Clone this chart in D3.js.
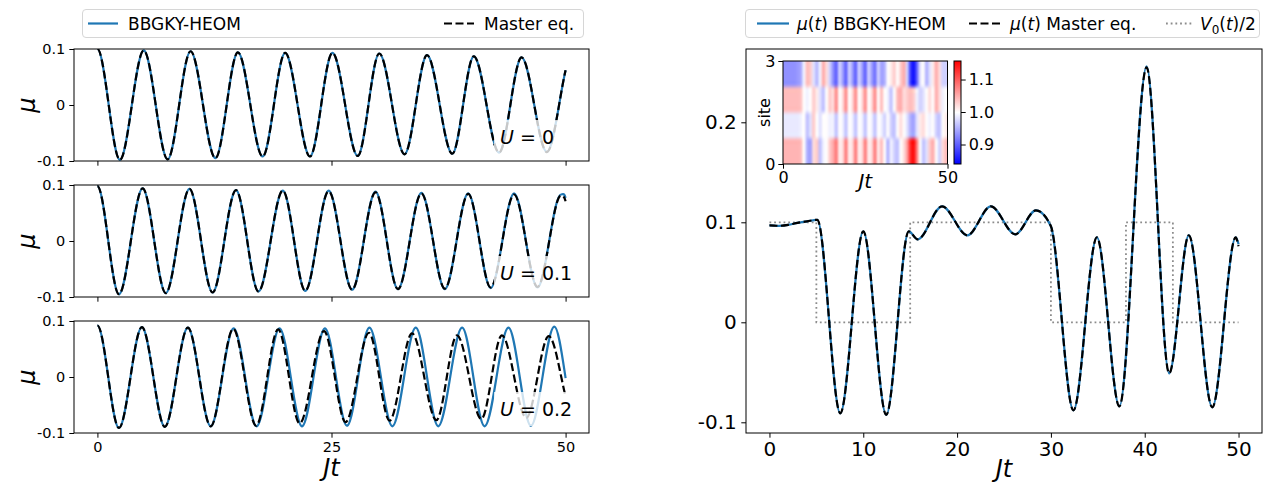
<!DOCTYPE html>
<html>
<head>
<meta charset="utf-8">
<script src="https://cdn.jsdelivr.net/npm/d3@7/dist/d3.min.js"></script>
<style>
  body { margin: 0; background: #fff; }
  svg { display: block; font-family: "DejaVu Sans", sans-serif; }
</style>
</head>
<body>
<div id="chart"></div>
<script>
/** DATA - turning points */
const leftXTicks = [0, 25, 50];
const leftYTicks = [-0.1, 0, 0.1];
const leftYLabels = ["-0.1", "0", "0.1"];
const rightXTicks = [0, 10, 20, 30, 40, 50];
const rightYTicks = [-0.1, 0, 0.1, 0.2];
const rightYLabels = ["-0.1", "0", "0.1", "0.2"];
const uValues = ["0", "0.1", "0.2"];

// U = 0
const u0Time = [0, 2.4, 4.95, 7.5, 9.95, 12.6, 15.0, 17.65, 20.05, 22.7, 25.1, 27.8, 30.1, 32.8, 35.2, 37.9, 40.2, 42.9, 45.3, 48.0, 50];
const u0Heom = [0.1, -0.098, 0.0975, -0.097, 0.096, -0.095, 0.094, -0.092, 0.093, -0.092, 0.093, -0.091, 0.092, -0.088, 0.089, -0.087, 0.087, -0.085, 0.085, -0.084, 0.062];
const u0Master = [0.1, -0.098, 0.0975, -0.097, 0.096, -0.095, 0.094, -0.092, 0.093, -0.092, 0.093, -0.091, 0.092, -0.088, 0.089, -0.087, 0.087, -0.085, 0.085, -0.084, 0.062];
// U = 0.1
const u1Time = [0, 2.3, 4.83, 7.3, 9.83, 12.3, 14.8, 17.2, 19.8, 22.2, 24.7, 27.2, 29.7, 32.1, 34.6, 37.1, 39.6, 42.0, 44.5, 47.0, 49.5, 50];
const u1Heom = [0.098, -0.095, 0.094, -0.093, 0.093, -0.092, 0.091, -0.09, 0.09, -0.089, 0.09, -0.087, 0.088, -0.086, 0.086, -0.086, 0.085, -0.084, 0.085, -0.083, 0.083, 0.077];
const u1Master = [0.098, -0.095, 0.094, -0.093, 0.093, -0.092, 0.091, -0.09, 0.09, -0.089, 0.089, -0.087, 0.087, -0.086, 0.085, -0.085, 0.084, -0.083, 0.083, -0.082, 0.081, 0.071];
// U = 0.2
const u2HeomTime = [0, 2.3, 4.75, 7.2, 9.66, 12.1, 14.55, 17.0, 19.45, 21.85, 24.3, 26.65, 29.05, 31.5, 34.0, 36.4, 38.95, 41.35, 43.9, 46.3, 48.8, 50];
const u2Heom = [0.092, -0.091, 0.089, -0.089, 0.088, -0.088, 0.087, -0.088, 0.087, -0.088, 0.087, -0.087, 0.088, -0.088, 0.088, -0.088, 0.088, -0.088, 0.088, -0.087, 0.09, -0.002];
const u2MasterTime = [0, 2.3, 4.75, 7.2, 9.66, 12.1, 14.5, 16.95, 19.3, 21.6, 24.2, 26.5, 29.0, 31.2, 33.6, 36.2, 38.4, 41.0, 43.2, 45.8, 48.2, 50];
const u2Master = [0.092, -0.091, 0.089, -0.089, 0.088, -0.088, 0.086, -0.087, 0.085, -0.083, 0.082, -0.0805, 0.079, -0.078, 0.078, -0.077, 0.0745, -0.075, 0.0745, -0.073, 0.073, -0.035];

// right panel, driven system
const rightTime = [0, 1, 2, 3, 4, 5.1, 7.55, 10.0, 12.45, 14.85, 15.8, 18.4, 21.1, 23.6, 26.2, 28.4, 30.0, 32.4, 34.9, 37.3, 40.2, 42.6, 44.7, 47.2, 49.7, 50];
const rightHeom = [0.097, 0.0965, 0.0975, 0.0995, 0.101, 0.1025, -0.091, 0.091, -0.0925, 0.091, 0.083, 0.116, 0.087, 0.116, 0.088, 0.112, 0.096, -0.088, 0.085, -0.084, 0.256, -0.051, 0.087, -0.085, 0.085, 0.078];
const rightMaster = [0.097, 0.0965, 0.0975, 0.0995, 0.101, 0.1025, -0.091, 0.091, -0.0925, 0.091, 0.083, 0.116, 0.087, 0.116, 0.088, 0.112, 0.096, -0.088, 0.085, -0.084, 0.255, -0.051, 0.087, -0.085, 0.085, 0.076];
const vTime = [0, 5, 15, 30, 38, 43, 50];
const vHalf = [0.1, 0, 0.1, 0, 0.1, 0, 0];

// inset: site densities at Jt = 0..50
const site3 = [0.93, 0.93, 0.93, 0.93, 0.935, 0.945, 0.99, 1.04, 1.03, 0.98, 0.955, 0.99, 1.05, 1.02, 0.97, 0.93, 0.9, 0.97, 0.94, 0.9, 0.97, 0.94, 0.9, 0.97, 0.94, 0.9, 0.97, 0.94, 0.91, 0.97, 0.94, 0.95, 1.0, 1.01, 1.03, 1.0, 1.03, 1.05, 0.97, 0.88, 0.85, 0.9, 0.98, 1.0, 0.95, 0.98, 1.01, 1.05, 1.02, 0.97, 0.97];
const site2 = [1.04, 1.04, 1.04, 1.04, 1.04, 1.035, 1.0, 0.99, 1.0, 1.03, 1.01, 0.98, 0.96, 1.0, 1.03, 1.02, 1.07, 1.0, 1.02, 1.07, 1.0, 1.02, 1.07, 1.0, 1.02, 1.07, 1.0, 1.02, 1.07, 1.0, 1.04, 1.0, 0.99, 0.96, 1.0, 1.04, 1.05, 1.02, 1.03, 1.04, 1.03, 0.99, 0.97, 0.98, 1.0, 1.02, 1.0, 1.05, 1.02, 0.99, 1.0];
const site1 = [0.985, 0.985, 0.985, 0.985, 0.985, 0.99, 1.0, 0.96, 0.98, 1.03, 1.0, 0.98, 1.0, 1.0, 0.99, 0.99, 0.96, 1.0, 0.99, 0.96, 1.0, 0.99, 0.96, 1.0, 0.99, 0.96, 1.0, 0.99, 0.96, 1.0, 0.99, 0.97, 1.0, 0.97, 0.96, 1.0, 1.02, 1.0, 0.98, 0.95, 0.94, 0.98, 1.01, 1.02, 1.0, 0.99, 1.0, 0.97, 0.96, 1.0, 1.01];
const site0 = [1.045, 1.045, 1.045, 1.045, 1.045, 1.04, 1.0, 0.95, 0.94, 1.02, 1.03, 0.96, 0.99, 1.0, 1.03, 1.05, 1.08, 1.01, 1.02, 1.08, 1.01, 1.02, 1.08, 1.01, 1.02, 1.08, 1.01, 1.02, 1.08, 1.01, 1.04, 1.0, 0.95, 0.99, 0.97, 0.96, 1.0, 1.02, 1.06, 1.13, 1.15, 1.08, 1.0, 0.96, 0.98, 1.03, 1.05, 1.0, 0.97, 1.02, 1.04];
const cbarTicks = [0.9, 1.0, 1.1];
const cbarLabels = ["0.9", "1.0", "1.1"];
const cbarMin = 0.84, cbarMax = 1.157;

/** CONSTANTS */
const width = 1264, height = 485;
const blue = "#1f77b4";
const leftTops = [49, 185, 321], leftH = 112;
const lineW = 2.2;

const svg = d3.select("#chart").append("svg")
  .attr("width", width)
  .attr("height", height);

// cubic through turning points, flat at each max/min
function turningPath(ts, vs, x, y) {
  const n = ts.length;
  const h = d3.range(n - 1).map(i => ts[i + 1] - ts[i]);
  const s = d3.range(n - 1).map(i => (vs[i + 1] - vs[i]) / h[i]);
  const m = new Array(n).fill(0);
  for (let i = 1; i < n - 1; i++) {
    if (s[i - 1] * s[i] <= 0) continue;
    const p = (s[i - 1] * h[i] + s[i] * h[i - 1]) / (h[i - 1] + h[i]);
    m[i] = 2 * Math.sign(s[i]) * Math.min(Math.abs(s[i - 1]), Math.abs(s[i]), 0.5 * Math.abs(p));
  }
  const a = n - 2;
  if (m[a] === 0 && a >= 1) {
    const half = ts[a] - ts[a - 1], swing = vs[a - 1] - vs[a];
    const ph = Math.min((ts[n - 1] - ts[a]) / half, 1);
    m[n - 1] = swing * Math.PI / (2 * half) * Math.sin(Math.PI * ph);
  } else {
    m[n - 1] = 1.5 * s[a] - 0.5 * m[a];
  }
  const path = d3.path();
  path.moveTo(x(ts[0]), y(vs[0]));
  for (let i = 0; i < n - 1; i++) {
    const d = h[i] / 3;
    path.bezierCurveTo(x(ts[i] + d), y(vs[i] + m[i] * d),
      x(ts[i + 1] - d), y(vs[i + 1] - m[i + 1] * d),
      x(ts[i + 1]), y(vs[i + 1]));
  }
  return path.toString();
}

function styleAxis(g, size) {
  g.select(".domain").remove();
  g.selectAll(".tick line").attr("stroke", "#000").attr("stroke-width", 1);
  g.selectAll(".tick text").attr("font-size", size).attr("fill", "#000")
    .attr("font-family", "DejaVu Sans");
}

function legendBox(x0, x1) {
  svg.append("rect")
    .attr("x", x0 + 0.5).attr("y", 9.5)
    .attr("width", x1 - x0).attr("height", 28)
    .attr("rx", 3.5)
    .attr("fill", "#fff").attr("stroke", "#d6d6d6").attr("stroke-width", 1);
}

/** LEFT PANELS */
const leftX = d3.scaleLinear().domain([-2.5, 52.5]).range([74, 589]);
const leftSeries = [
  { ht: u0Time, hv: u0Heom, mt: u0Time, mv: u0Master },
  { ht: u1Time, hv: u1Heom, mt: u1Time, mv: u1Master },
  { ht: u2HeomTime, hv: u2Heom, mt: u2MasterTime, mv: u2Master }
];

leftTops.forEach((top, k) => {
  const y = d3.scaleLinear().domain([-0.1, 0.1]).range([top + leftH, top]);
  const g = svg.append("g");
  const clipId = "clipL" + k;
  svg.append("clipPath").attr("id", clipId).append("rect")
    .attr("x", 74).attr("y", top).attr("width", 515).attr("height", leftH);
  const ser = leftSeries[k];

  g.append("path")
    .attr("d", turningPath(ser.ht, ser.hv, leftX, y))
    .attr("fill", "none").attr("stroke", blue).attr("stroke-width", lineW)
    .attr("clip-path", `url(#${clipId})`);
  g.append("path")
    .attr("d", turningPath(ser.mt, ser.mv, leftX, y))
    .attr("fill", "none").attr("stroke", "#000").attr("stroke-width", lineW)
    .attr("stroke-dasharray", "8,3.5")
    .attr("clip-path", `url(#${clipId})`);

  // U label with translucent box
  const lab = g.append("text")
    .attr("x", 500).attr("y", top + leftH - 17)
    .attr("font-size", 19);
  lab.append("tspan").attr("font-style", "italic").text("U");
  lab.append("tspan").text(" = " + uValues[k]);
  const bb = lab.node().getBBox();
  g.insert("rect", () => lab.node())
    .attr("x", bb.x - 6).attr("y", bb.y - 6)
    .attr("width", bb.width + 12).attr("height", bb.height + 12)
    .attr("fill", "#fff").attr("opacity", 0.78);

  g.append("rect")
    .attr("x", 74).attr("y", top).attr("width", 515).attr("height", leftH)
    .attr("fill", "none").attr("stroke", "#000").attr("stroke-width", 1);

  g.append("g").attr("transform", "translate(74,0)")
    .call(d3.axisLeft(y).tickValues(leftYTicks).tickFormat((d, i) => leftYLabels[i])
      .tickSize(4.7).tickPadding(4))
    .call(a => styleAxis(a, 14.5));
  g.append("g").attr("transform", `translate(0,${top + leftH})`)
    .call(d3.axisBottom(leftX).tickValues(leftXTicks)
      .tickFormat(d => (k === 2 ? String(d) : "")).tickSize(4.7).tickPadding(4.5))
    .call(a => styleAxis(a, 14.5));

  svg.append("text")
    .attr("transform", `translate(35,${top + leftH / 2}) rotate(-90)`)
    .attr("text-anchor", "middle").attr("font-size", 24).attr("font-style", "italic")
    .text("μ");
});

svg.append("text")
  .attr("x", (74 + 589) / 2).attr("y", 476)
  .attr("text-anchor", "middle").attr("font-size", 24).attr("font-style", "italic")
  .text("Jt");

// left legend
legendBox(82, 583);
svg.append("line").attr("x1", 88).attr("x2", 118).attr("y1", 23.5).attr("y2", 23.5)
  .attr("stroke", blue).attr("stroke-width", lineW);
svg.append("text").attr("x", 128).attr("y", 29.5).attr("font-size", 17).text("BBGKY-HEOM");
svg.append("line").attr("x1", 444).attr("x2", 474).attr("y1", 23.5).attr("y2", 23.5)
  .attr("stroke", "#000").attr("stroke-width", lineW).attr("stroke-dasharray", "8,3.5");
svg.append("text").attr("x", 484).attr("y", 29.5).attr("font-size", 17).text("Master eq.");

/** RIGHT PANEL */
const rx = d3.scaleLinear().domain([-2.5, 52.5]).range([746, 1262]);
const ry = d3.scaleLinear().domain([-0.1107, 0.2733]).range([433, 49]);

svg.append("clipPath").attr("id", "clipR").append("rect")
  .attr("x", 746).attr("y", 49).attr("width", 516).attr("height", 384);

const stepLine = d3.line().x((d, i) => rx(vTime[i])).y(d => ry(d)).curve(d3.curveStepAfter);
svg.append("path")
  .attr("d", stepLine(vHalf))
  .attr("fill", "none").attr("stroke", "#8c8c8c").attr("stroke-width", 1.8)
  .attr("stroke-dasharray", "1.8,2.9").attr("clip-path", "url(#clipR)");
svg.append("path")
  .attr("d", turningPath(rightTime, rightHeom, rx, ry))
  .attr("fill", "none").attr("stroke", blue).attr("stroke-width", lineW)
  .attr("clip-path", "url(#clipR)");
svg.append("path")
  .attr("d", turningPath(rightTime, rightMaster, rx, ry))
  .attr("fill", "none").attr("stroke", "#000").attr("stroke-width", lineW)
  .attr("stroke-dasharray", "8,3.5").attr("clip-path", "url(#clipR)");

svg.append("rect")
  .attr("x", 746).attr("y", 49).attr("width", 516).attr("height", 384)
  .attr("fill", "none").attr("stroke", "#000").attr("stroke-width", 1);
svg.append("g").attr("transform", "translate(746,0)")
  .call(d3.axisLeft(ry).tickValues(rightYTicks).tickFormat((d, i) => rightYLabels[i])
    .tickSize(4.7).tickPadding(4.5))
  .call(a => styleAxis(a, 20));
svg.append("g").attr("transform", "translate(0,433)")
  .call(d3.axisBottom(rx).tickValues(rightXTicks).tickSize(4.7).tickPadding(4.5))
  .call(a => styleAxis(a, 20));
svg.append("text")
  .attr("x", 1004).attr("y", 477)
  .attr("text-anchor", "middle").attr("font-size", 24).attr("font-style", "italic")
  .text("Jt");

// right legend
legendBox(745, 1259);
svg.append("line").attr("x1", 757).attr("x2", 789).attr("y1", 23.5).attr("y2", 23.5)
  .attr("stroke", blue).attr("stroke-width", lineW);
const lt1 = svg.append("text").attr("x", 797).attr("y", 29.5).attr("font-size", 17);
lt1.append("tspan").attr("font-style", "italic").text("μ");
lt1.append("tspan").text("(");
lt1.append("tspan").attr("font-style", "italic").text("t");
lt1.append("tspan").text(") BBGKY-HEOM");
svg.append("line").attr("x1", 969).attr("x2", 1000).attr("y1", 23.5).attr("y2", 23.5)
  .attr("stroke", "#000").attr("stroke-width", lineW).attr("stroke-dasharray", "8,3.5");
const lt2 = svg.append("text").attr("x", 1010).attr("y", 29.5).attr("font-size", 17);
lt2.append("tspan").attr("font-style", "italic").text("μ");
lt2.append("tspan").text("(");
lt2.append("tspan").attr("font-style", "italic").text("t");
lt2.append("tspan").text(") Master eq.");
svg.append("line").attr("x1", 1166).attr("x2", 1193).attr("y1", 23.5).attr("y2", 23.5)
  .attr("stroke", "#8c8c8c").attr("stroke-width", 1.8).attr("stroke-dasharray", "1.8,2.9");
const lt3 = svg.append("text").attr("x", 1200).attr("y", 29.5).attr("font-size", 17);
lt3.append("tspan").attr("font-style", "italic").text("V");
lt3.append("tspan").attr("font-size", 12).attr("dy", 4).text("0");
lt3.append("tspan").attr("dy", -4).text("(");
lt3.append("tspan").attr("font-style", "italic").text("t");
lt3.append("tspan").text(")/2");

/** INSET HEATMAP */
const ix = d3.scaleLinear().domain([0, 50]).range([783, 947.5]);
const iy = d3.scaleLinear().domain([0, 3]).range([164, 61]);
const heatColor = d3.scaleLinear()
  .domain([cbarMin, (cbarMin + cbarMax) / 2, cbarMax])
  .range(["#0000ff", "#ffffff", "#ff0000"]);

// each site row is held over several pixels so the bands keep soft but clear edges
const heatRows = [site3, site2, site1, site0];
const rowRep = 5;
const small = document.createElement("canvas");
small.width = site0.length; small.height = heatRows.length * rowRep;
const sctx = small.getContext("2d");
heatRows.forEach((row, r) => row.forEach((v, c) => {
  sctx.fillStyle = heatColor(v);
  sctx.fillRect(c, r * rowRep, 1, rowRep);
}));
// resample smoothly to the on-screen size
const heatW = Math.round(ix(50) - ix(0)), heatH = Math.round(iy(0) - iy(3));
const big = document.createElement("canvas");
big.width = heatW; big.height = heatH;
const bctx = big.getContext("2d");
bctx.imageSmoothingEnabled = true;
bctx.imageSmoothingQuality = "high";
bctx.drawImage(small, 0, 0, heatW, heatH);

svg.append("image")
  .attr("href", big.toDataURL())
  .attr("x", ix(0)).attr("y", iy(3))
  .attr("width", ix(50) - ix(0)).attr("height", iy(0) - iy(3))
  .attr("preserveAspectRatio", "none");
svg.append("rect")
  .attr("x", ix(0)).attr("y", iy(3))
  .attr("width", ix(50) - ix(0)).attr("height", iy(0) - iy(3))
  .attr("fill", "none").attr("stroke", "#000").attr("stroke-width", 1);
svg.append("g").attr("transform", `translate(${ix(0)},0)`)
  .call(d3.axisLeft(iy).tickValues([0, 3]).tickFormat(d3.format("d")).tickSize(4.7).tickPadding(3))
  .call(a => styleAxis(a, 16));
svg.append("g").attr("transform", `translate(0,${iy(0)})`)
  .call(d3.axisBottom(ix).tickValues([0, 50]).tickFormat(d3.format("d")).tickSize(4.7).tickPadding(3))
  .call(a => styleAxis(a, 16));
svg.append("text")
  .attr("transform", `translate(770,${(iy(0) + iy(3)) / 2}) rotate(-90)`)
  .attr("text-anchor", "middle").attr("font-size", 16).text("site");
svg.append("text")
  .attr("x", (ix(0) + ix(50)) / 2).attr("y", 188)
  .attr("text-anchor", "middle").attr("font-size", 20).attr("font-style", "italic")
  .text("Jt");

// colorbar
const cy = d3.scaleLinear().domain([cbarMin, cbarMax]).range([164, 61]);
const grad = svg.append("defs").append("linearGradient")
  .attr("id", "cbar").attr("x1", 0).attr("y1", 1).attr("x2", 0).attr("y2", 0);
grad.selectAll("stop").data(heatColor.domain()).join("stop")
  .attr("offset", d => (d - cbarMin) / (cbarMax - cbarMin))
  .attr("stop-color", d => heatColor(d));
svg.append("rect")
  .attr("x", 954).attr("y", cy(cbarMax)).attr("width", 7).attr("height", cy(cbarMin) - cy(cbarMax))
  .attr("fill", "url(#cbar)").attr("stroke", "#000").attr("stroke-width", 1);
svg.append("g").attr("transform", "translate(961,0)")
  .call(d3.axisRight(cy).tickValues(cbarTicks).tickFormat((d, i) => cbarLabels[i]).tickSize(4.7).tickPadding(3))
  .call(a => styleAxis(a, 16));
</script>
</body>
</html>
